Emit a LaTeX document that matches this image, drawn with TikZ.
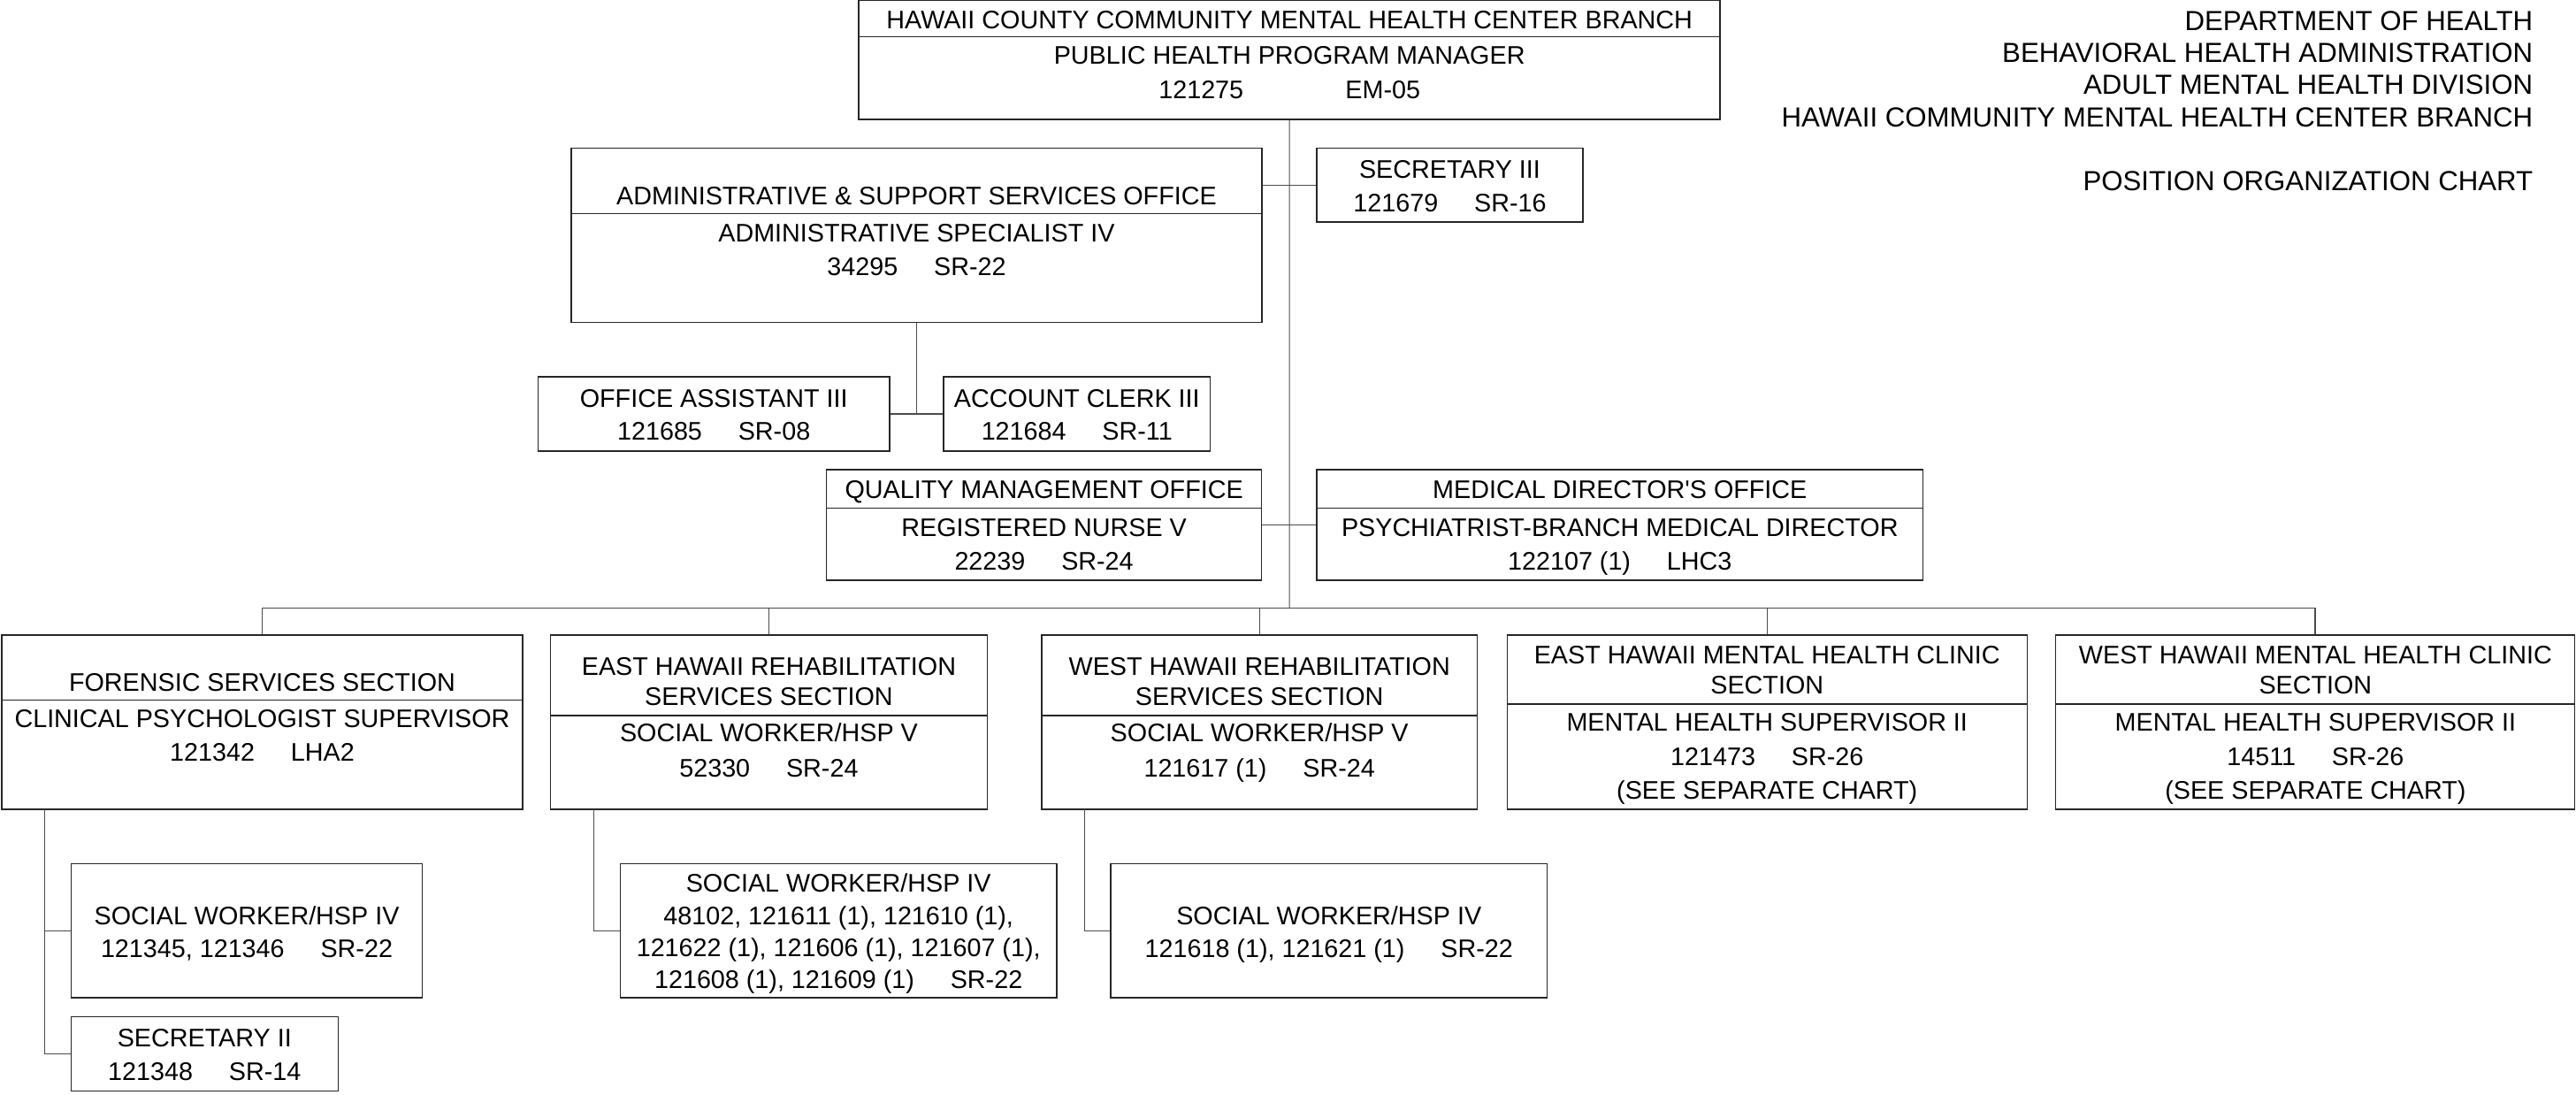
\documentclass[tikz,border=0pt]{standalone}
\usepackage{fontspec}
\setmainfont{Liberation Sans}
\usetikzlibrary{fit}
\newcommand{\colgap}{\hspace{16.5pt}}

\begin{document}
\begin{tikzpicture}[x=0.75pt,y=0.75pt,yscale=-1,xscale=1,
  box/.style={draw=black!85, line width=0.6pt, inner sep=0pt},
  split/.style={draw=black!85, line width=0.6pt},
  link/.style={draw=black!70, line width=0.45pt},
  txt/.style={inner sep=0pt, anchor=base, font=\fontsize{11.6}{14}\selectfont},
  hdr/.style={inner sep=0pt, anchor=base east, font=\fontsize{12.6}{15}\selectfont}]
\useasboundingbox (0,0) rectangle (1568,666);

%Shape: Rectangle [branch head]
\node[box, fit={(522.7,0.4) (1047,72.7)}] (top) {};
\draw[split] (522.7,22.4) -- (1047,22.4);
%Shape: Rectangle [secretary III]
\node[box, fit={(801.5,90.3) (963.5,135.1)}] (sec3) {};
%Shape: Rectangle [admin office]
\node[box, fit={(347.7,90.3) (768,196.1)}] (adm) {};
\draw[split] (347.7,129.9) -- (768,129.9);
%Shape: Rectangle [office assistant / account clerk]
\node[box, fit={(327.4,229.3) (541.5,274.5)}] (oa) {};
\node[box, fit={(574.4,229.3) (736.5,274.5)}] (ac) {};
%Shape: Rectangle [quality management / medical director]
\node[box, fit={(503,285.8) (767.9,353.1)}] (qmo) {};
\draw[split] (503,309.2) -- (767.9,309.2);
\node[box, fit={(801.5,285.8) (1170.5,353.1)}] (md) {};
\draw[split] (801.5,309.2) -- (1170.5,309.2);
%Shape: Rectangle [sections]
\node[box, fit={(1,386.5) (318.2,492.5)}] (fss) {};
\draw[split] (1,426.1) -- (318.2,426.1);
\node[box, fit={(335.2,386.5) (600.9,492.5)}] (ers) {};
\draw[split] (335.2,435.5) -- (600.9,435.5);
\node[box, fit={(634,386.5) (899.2,492.5)}] (wrs) {};
\draw[split] (634,435.5) -- (899.2,435.5);
\node[box, fit={(917.4,386.5) (1233.9,492.5)}] (emc) {};
\draw[split] (917.4,428.4) -- (1233.9,428.4);
\node[box, fit={(1251.3,386.5) (1567.3,492.5)}] (wmc) {};
\draw[split] (1251.3,428.4) -- (1567.3,428.4);
%Shape: Rectangle [staff]
\node[box, fit={(43.3,525.5) (257.1,607.3)}] (fsw) {};
\node[box, fit={(43.3,618.7) (205.8,663.9)}] (sec2) {};
\node[box, fit={(377.6,525.5) (643.2,607.3)}] (esw) {};
\node[box, fit={(676,525.5) (941.7,607.3)}] (wsw) {};

%Straight Lines
\coordinate (bus) at (784.9,370);
\coordinate (fss-d) at (27,492.5);
\coordinate (ers-d) at (361.5,492.5);
\coordinate (wrs-d) at (660.1,492.5);
\draw[link] (top.south) -- (bus);
\draw[link] (sec3.west) -- (sec3.west -| adm.east);
\draw[link] (adm.south) -- (adm.south |- oa.east);
\draw[link] (oa.east) -- (ac.west);
\draw[link] (qmo.east) -- (md.west);
\draw[link, line width=0.6pt] (fss.north) |- (bus) -| (wmc.north);
\draw[link] (ers.north) -- (ers.north |- bus);
\draw[link] (wrs.north) -- (wrs.north |- bus);
\draw[link] (emc.north) -- (emc.north |- bus);
\draw[link] (fss-d) |- (sec2.west);
\draw[link] (fss-d |- fsw.west) -- (fsw.west);
\draw[link] (ers-d) |- (esw.west);
\draw[link] (wrs-d) |- (wsw.west);

% Text Node
\node[hdr] (h1) at (1542,18.5) {DEPARTMENT OF HEALTH};
\node[hdr] (h2) at (1542,38) {BEHAVIORAL HEALTH ADMINISTRATION};
\node[hdr] (h3) at (1542,57.5) {ADULT MENTAL HEALTH DIVISION};
\node[hdr] (h4) at (1542,77) {HAWAII COMMUNITY MENTAL HEALTH CENTER BRANCH};
\node[hdr] (h5) at (1542,116) {POSITION ORGANIZATION CHART};
% Text Node
\node[txt] (top-1) at (784.9,17.7) {HAWAII COUNTY COMMUNITY MENTAL HEALTH CENTER BRANCH};
\node[txt] (top-2) at (784.9,39.2) {PUBLIC HEALTH PROGRAM MANAGER};
\node[txt] (top-3) at (784.9,60.2) {121275\hspace{46.5pt}EM-05};
% Text Node
\node[txt] (sec3-1) at (882.5,108.7) {SECRETARY III};
\node[txt] (sec3-2) at (882.5,128.9) {121679\colgap SR-16};
% Text Node
\node[txt] (adm-1) at (557.9,124.8) {ADMINISTRATIVE \& SUPPORT SERVICES OFFICE};
\node[txt] (adm-2) at (557.9,147.2) {ADMINISTRATIVE SPECIALIST IV};
\node[txt] (adm-3) at (557.9,167.5) {34295\colgap SR-22};
% Text Node
\node[txt] (oa-1) at (434.5,247.7) {OFFICE ASSISTANT III};
\node[txt] (oa-2) at (434.5,267.8) {121685\colgap SR-08};
\node[txt] (ac-1) at (655.5,247.7) {ACCOUNT CLERK III};
\node[txt] (ac-2) at (655.5,267.8) {121684\colgap SR-11};
% Text Node
\node[txt] (qmo-1) at (635.5,303.3) {QUALITY MANAGEMENT OFFICE};
\node[txt] (qmo-2) at (635.5,326.3) {REGISTERED NURSE V};
\node[txt] (qmo-3) at (635.5,346.8) {22239\colgap SR-24};
\node[txt] (md-1) at (986,303.3) {MEDICAL DIRECTOR\textquotesingle S OFFICE};
\node[txt] (md-2) at (986,326.3) {PSYCHIATRIST-BRANCH MEDICAL DIRECTOR};
\node[txt] (md-3) at (986,346.8) {122107 (1)\colgap LHC3};
% Text Node
\node[txt] (fss-1) at (159.6,420.9) {FORENSIC SERVICES SECTION};
\node[txt] (fss-2) at (159.6,442.9) {CLINICAL PSYCHOLOGIST SUPERVISOR};
\node[txt] (fss-3) at (159.6,463) {121342\colgap LHA2};
\node[txt] (ers-1) at (468,411) {EAST HAWAII REHABILITATION};
\node[txt] (ers-2) at (468,429.5) {SERVICES SECTION};
\node[txt] (ers-3) at (468,451.5) {SOCIAL WORKER/HSP V};
\node[txt] (ers-4) at (468,472.9) {52330\colgap SR-24};
\node[txt] (wrs-1) at (766.6,411) {WEST HAWAII REHABILITATION};
\node[txt] (wrs-2) at (766.6,429.5) {SERVICES SECTION};
\node[txt] (wrs-3) at (766.6,451.5) {SOCIAL WORKER/HSP V};
\node[txt] (wrs-4) at (766.6,472.9) {121617 (1)\colgap SR-24};
\node[txt] (emc-1) at (1075.6,404.2) {EAST HAWAII MENTAL HEALTH CLINIC};
\node[txt] (emc-2) at (1075.6,422.3) {SECTION};
\node[txt] (emc-3) at (1075.6,444.7) {MENTAL HEALTH SUPERVISOR II};
\node[txt] (emc-4) at (1075.6,465.7) {121473\colgap SR-26};
\node[txt] (emc-5) at (1075.6,486.3) {(SEE SEPARATE CHART)};
\node[txt] (wmc-1) at (1409.4,404.2) {WEST HAWAII MENTAL HEALTH CLINIC};
\node[txt] (wmc-2) at (1409.4,422.3) {SECTION};
\node[txt] (wmc-3) at (1409.4,444.7) {MENTAL HEALTH SUPERVISOR II};
\node[txt] (wmc-4) at (1409.4,465.7) {14511\colgap SR-26};
\node[txt] (wmc-5) at (1409.4,486.3) {(SEE SEPARATE CHART)};
% Text Node
\node[txt] (fsw-1) at (150.2,562.6) {SOCIAL WORKER/HSP IV};
\node[txt] (fsw-2) at (150.2,582.9) {121345, 121346\colgap SR-22};
\node[txt] (sec2-1) at (124.5,637.1) {SECRETARY II};
\node[txt] (sec2-2) at (124.5,657.7) {121348\colgap SR-14};
\node[txt] (esw-1) at (510.4,543) {SOCIAL WORKER/HSP IV};
\node[txt] (esw-2) at (510.4,562.5) {48102, 121611 (1), 121610 (1),};
\node[txt] (esw-3) at (510.4,582) {121622 (1), 121606 (1), 121607 (1),};
\node[txt] (esw-4) at (510.4,601.5) {121608 (1), 121609 (1)\colgap SR-22};
\node[txt] (wsw-1) at (808.9,562.6) {SOCIAL WORKER/HSP IV};
\node[txt] (wsw-2) at (808.9,582.9) {121618 (1), 121621 (1)\colgap SR-22};

\end{tikzpicture}
\end{document}
